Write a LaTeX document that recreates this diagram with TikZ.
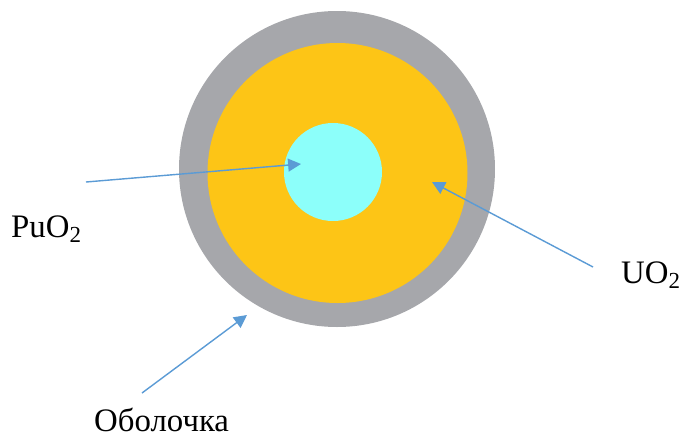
\documentclass[tikz,border=0pt]{standalone}
\usepackage{fontspec}
\setmainfont{Liberation Serif}
\usetikzlibrary{arrows.meta}

\definecolor{cladgray}{HTML}{A6A7AB}
\definecolor{fuelyellow}{HTML}{FDC516}
\definecolor{corecyan}{HTML}{8CFFFA}
\definecolor{arrowblue}{HTML}{5B9BD5}

\tikzset{
    pointer/.style={draw=arrowblue, line width=1.2pt, -{Triangle[length=11pt,width=11pt]}},
    label text/.style={inner sep=0pt, anchor=base west, font=\fontsize{28}{30}\selectfont}
}

\begin{document}
\begin{tikzpicture}[x=0.03cm,y=-0.03cm]

    \useasboundingbox (0,0) rectangle (686,437);

    % Define the centres of the rings
    \coordinate (O) at (337,169);
    \coordinate (Y) at (337.5,173);
    \coordinate (K) at (333,172);

    % Draw the cladding, the fuel and the core
    \fill[cladgray] (O) circle (158);
    \fill[fuelyellow] (Y) circle (130);
    \fill[corecyan] (K) circle (49);

    % Define the ends of the arrows
    \coordinate (puS) at (86,182);
    \coordinate (puT) at (301,164);
    \coordinate (uoS) at (593,267);
    \coordinate (uoT) at (432,182);
    \coordinate (clS) at (142,393);
    \coordinate (clT) at (247,315);

    % Draw the arrows
    \draw[pointer] (puS) -- (puT);
    \draw[pointer] (uoS) -- (uoT);
    \draw[pointer] (clS) -- (clT);

    % Place the labels
    \node (pu) at (11,237) [label text] {PuO\textsubscript{2}};
    \node (uo) at (621,283) [label text] {UO\textsubscript{2}};
    \node (cl) at (94,431) [label text] {Оболочка};

\end{tikzpicture}
\end{document}
